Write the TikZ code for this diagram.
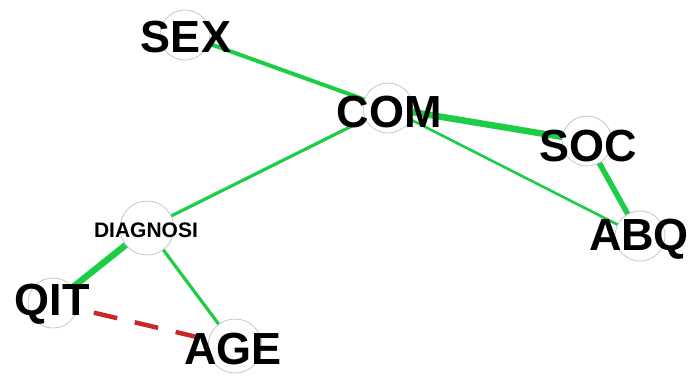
\documentclass[tikz,border=0pt]{standalone}
\usepackage{fontspec}
\setmainfont{Liberation Sans}
\begin{document}
\begin{tikzpicture}[x=1pt,y=-1pt,
  vert/.style={circle,draw=black!22,line width=0.8pt,fill=white,minimum size=50pt,inner sep=0pt},
  lbl/.style={font=\bfseries\fontsize{45}{45}\selectfont,inner sep=0pt},
  slbl/.style={font=\bfseries\fontsize{21}{21}\selectfont,inner sep=0pt},
  posedge/.style={draw={rgb,255:red,30;green,205;blue,70},line cap=round},
  negedge/.style={draw={rgb,255:red,200;green,40;blue,40},dash pattern=on 24pt off 18pt}]
\useasboundingbox (0,0) rectangle (688,376);
\coordinate (cSEX) at (185,35);
\coordinate (cCOM) at (388,108);
\coordinate (cSOC) at (587,141);
\coordinate (cABQ) at (640,236);
\coordinate (cDIA) at (147,228);
\coordinate (cQIT) at (53,303);
\coordinate (cAGE) at (235,346);
\draw[posedge,line width=4pt] (cSEX) -- (cCOM);
\draw[posedge,line width=6.5pt] (cCOM) -- (cSOC);
\draw[posedge,line width=2.6pt] (cCOM) -- (cABQ);
\draw[posedge,line width=5.5pt] (cSOC) -- (cABQ);
\draw[posedge,line width=3.2pt] (cCOM) -- (cDIA);
\draw[posedge,line width=6.5pt] (cDIA) -- (cQIT);
\draw[posedge,line width=3.2pt] (cDIA) -- (cAGE);
\draw[negedge,line width=4.5pt] (cQIT) -- (cAGE);
\node[vert] (vSEX) at (cSEX) {};
\node[vert] (vCOM) at (cCOM) {};
\node[vert] (vSOC) at (cSOC) {};
\node[vert] (vABQ) at (cABQ) {};
\node[vert,minimum size=54pt] (vDIA) at (cDIA) {};
\node[vert] (vQIT) at (cQIT) {};
\node[vert,minimum size=54pt] (vAGE) at (cAGE) {};
\node[lbl] (tSEX) at (186,37) {SEX};
\node[lbl] (tCOM) at (389,112) {COM};
\node[lbl] (tSOC) at (588,146) {SOC};
\node[lbl] (tABQ) at (639,239) {ABQ};
\node[slbl] (tDIA) at (146,230) {DIAGNOSI};
\node[lbl] (tQIT) at (52,304) {QIT};
\node[lbl] (tAGE) at (233,349) {AGE};
\end{tikzpicture}
\end{document}
